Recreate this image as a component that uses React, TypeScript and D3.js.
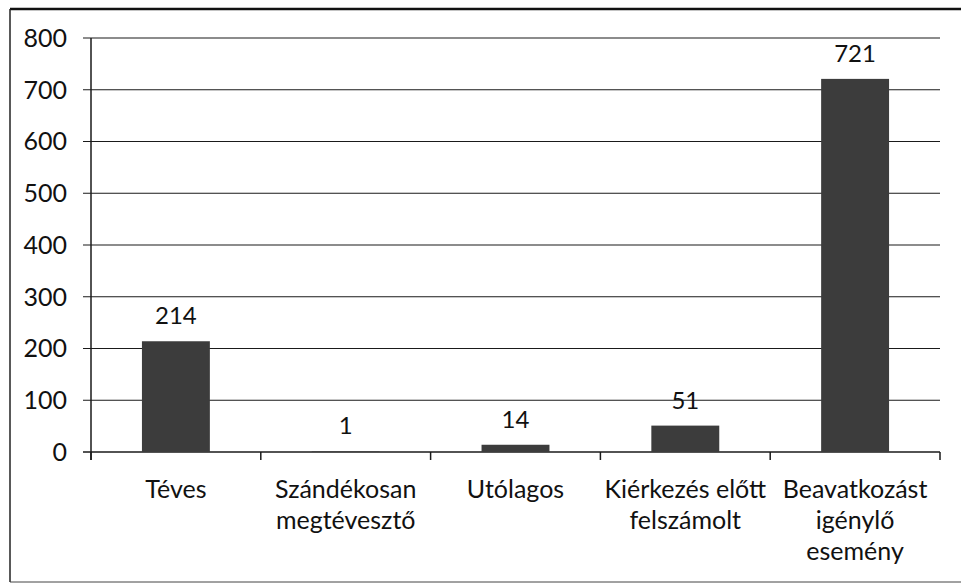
import * as d3 from "d3";

const categories: string[][] = [
  ["Téves"],
  ["Szándékosan", "megtévesztő"],
  ["Utólagos"],
  ["Kiérkezés előtt", "felszámolt"],
  ["Beavatkozást", "igénylő", "esemény"],
];
const values = [214, 1, 14, 51, 721];
const yTicks = [0, 100, 200, 300, 400, 500, 600, 700, 800];

const W = 961;
const H = 588;
const FONT = "Lato, 'Open Sans', sans-serif";

export default function App() {
  const left = 91;
  const right = 940;
  const top = 38;
  const bottom = 452;

  const x = d3
    .scaleBand<number>()
    .domain(values.map((_, i) => i))
    .range([left, right])
    .paddingInner(0.6)
    .paddingOuter(0.3);

  // band boundaries for the category ticks
  const step = (right - left) / values.length;
  const bounds = d3.range(values.length + 1).map((i) => left + i * step);

  const y = d3.scaleLinear().domain([0, 800]).range([bottom, top]);

  return (
    <svg
      width={W}
      height={H}
      style={{ position: "absolute", left: 0, top: 0, background: "#fff" }}
      fontFamily={FONT}
    >
      <rect x={0} y={0} width={W} height={H} fill="#fff" />
      {/* outer frame */}
      <line x1={10} x2={W} y1={9} y2={9} stroke="#111" strokeWidth={2.5} />
      <line x1={10} x2={10} y1={9} y2={582} stroke="#222" strokeWidth={1.5} />
      <line x1={10} x2={W} y1={582} y2={582} stroke="#444" strokeWidth={1} />

      {/* gridlines */}
      {yTicks.map((t) => (
        <g key={t}>
          <line
            x1={left - 8}
            x2={right}
            y1={y(t)}
            y2={y(t)}
            stroke="#1a1a1a"
            strokeWidth={t === 0 ? 1.5 : 1.2}
          />
          <text
            x={67}
            y={y(t)}
            dy="0.35em"
            textAnchor="end"
            fontSize={25}
            fill="#111"
          >
            {t}
          </text>
        </g>
      ))}

      {/* y axis */}
      <line x1={left} x2={left} y1={top} y2={bottom + 8} stroke="#1a1a1a" strokeWidth={1.5} />

      {/* category ticks */}
      {bounds.map((b, i) => (
        <line key={i} x1={b} x2={b} y1={bottom} y2={bottom + 8} stroke="#1a1a1a" strokeWidth={1.5} />
      ))}

      {/* bars */}
      {values.map((v, i) => (
        <g key={i}>
          <rect
            x={x(i)}
            y={y(v)}
            width={x.bandwidth()}
            height={bottom - y(v)}
            fill="#3c3c3c"
          />
          <text
            x={(x(i) ?? 0) + x.bandwidth() / 2}
            y={y(v) - 17}
            textAnchor="middle"
            fontSize={24}
            fill="#111"
          >
            {v}
          </text>
        </g>
      ))}

      {/* category labels */}
      {categories.map((lines, i) => (
        <text
          key={i}
          x={left + (i + 0.5) * step}
          y={498}
          textAnchor="middle"
          fontSize={25}
          fill="#111"
        >
          {lines.map((l, j) => (
            <tspan key={j} x={left + (i + 0.5) * step} dy={j === 0 ? 0 : 31}>
              {l}
            </tspan>
          ))}
        </text>
      ))}
    </svg>
  );
}
